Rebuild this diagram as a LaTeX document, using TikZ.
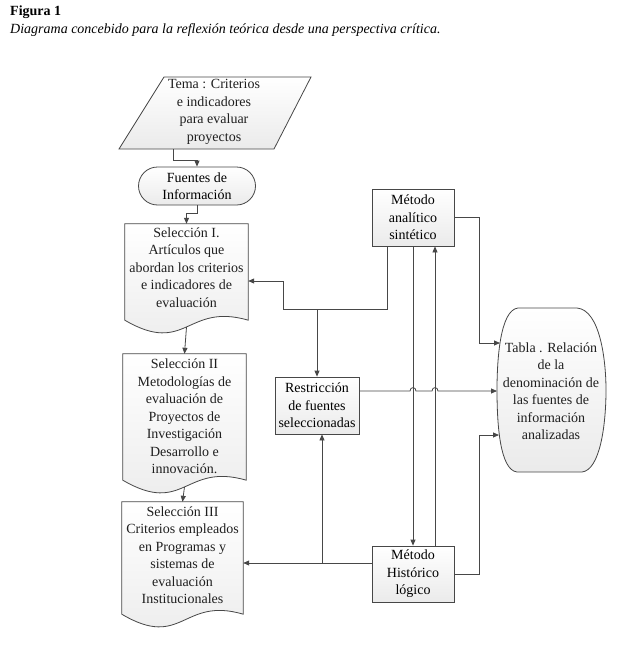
\documentclass[tikz,border=0pt]{standalone}
\usepackage{fontspec}
\setmainfont{Liberation Serif}
\usetikzlibrary{arrows.meta,calc}
\tikzset{
  ln/.style={draw=black!72, line width=0.8pt},
  arr/.style={ln, -{Triangle[length=6pt,width=5pt]}},
  boxfill/.style={ln, top color=white, bottom color=gray!16},
  proc/.style={boxfill, minimum width=82pt, minimum height=57pt, align=center, inner sep=1pt},
  txt/.style={align=center, inner sep=0pt, text=black!88},
  holder/.style={minimum width=123pt, inner sep=0pt, draw=none},
  every node/.style={font=\fontsize{14pt}{17.5pt}\selectfont}
}
\begin{document}
\begin{tikzpicture}[x=1pt,y=-1pt]
\useasboundingbox (0,0) rectangle (640,645);
\fill[white] (0,0) rectangle (640,645);

% titles
\node[anchor=base west, inner sep=0pt, font=\fontsize{14pt}{17pt}\selectfont\bfseries] (fig) at (10,15) {Figura 1};
\node[anchor=base west, inner sep=0pt, font=\fontsize{14pt}{17pt}\selectfont\itshape] (cap) at (10,33) {Diagrama concebido para la reflexión teórica desde una perspectiva crítica.};

% Tema (parallelogram)
\draw[boxfill] (164,77) -- (311,77) -- (274,149) -- (119,149) -- cycle;
\node[txt] (tema) at (214,112) {Tema : Criterios\\e indicadores\\para evaluar\\proyectos};
\coordinate (t1) at (173,149);

% Fuentes
\node[proc, rounded corners=19pt, minimum width=117pt, minimum height=38pt] (fuentes) at (197,186) {Fuentes de\\Información};

% Seleccion I
\node[holder, minimum height=96pt] (s1) at (186.5,272) {};
\draw[boxfill] (s1.north west) -- (s1.north east) -- (s1.south east)
  .. controls ($(s1.south)+(0,-18)$) and ($(s1.south)+(0,36)$) .. (s1.south west) -- cycle;
\node[txt] (s1t) at (186.5,267.5) {Selección I.\\Artículos que\\abordan los criterios\\e indicadores de\\evaluación};
\coordinate (s1b) at ($(s1.south)+(0,6.75)$);

% Seleccion II
\node[holder, minimum height=126pt] (s2) at (184.5,417) {};
\draw[boxfill] (s2.north west) -- (s2.north east) -- (s2.south east)
  .. controls ($(s2.south)+(0,-18)$) and ($(s2.south)+(0,36)$) .. (s2.south west) -- cycle;
\node[txt] (s2t) at (184.5,416.5) {Selección II\\Metodologías de\\evaluación de\\Proyectos de\\Investigación\\Desarrollo e\\innovación.};
\coordinate (s2b) at ($(s2.south)+(0,6.75)$);

% Seleccion III
\node[holder, minimum height=112pt, minimum width=121pt] (s3) at (182.5,558) {};
\draw[boxfill] (s3.north west) -- (s3.north east) -- (s3.south east)
  .. controls ($(s3.south)+(0,-18)$) and ($(s3.south)+(0,36)$) .. (s3.south west) -- cycle;
\node[txt] (s3t) at (182.5,555) {Selección III\\Criterios empleados\\en Programas y\\sistemas de\\evaluación\\Institucionales};

% Metodo analitico
\node[proc] (anal) at (413,217.5) {Método\\analítico\\sintético};
% Restriccion
\node[proc, minimum width=84pt] (restr) at (317,405.5) {Restricción\\de fuentes\\seleccionadas};
% Metodo historico
\node[proc, minimum height=56pt] (hist) at (413,574) {Método\\Histórico\\lógico};

% Tabla
\draw[boxfill] (518,308) -- (577,308) .. controls (600,310) and (606,360) .. (606,390)
  .. controls (606,425) and (600,470) .. (582,472) -- (517,472)
  .. controls (500,470) and (497,425) .. (497,390)
  .. controls (497,360) and (500,310) .. (518,308) -- cycle;
\node[txt] (tabla) at (551,391) {Tabla . Relación\\de la\\denominación de\\las fuentes de\\información\\analizadas};
\coordinate (ta1) at (500,343);
\coordinate (ta2) at (497,391);
\coordinate (ta3) at (499,435);

% connectors left column
\draw[arr] (t1) -- ++(0,11) -| (fuentes.north);
\draw[arr] (fuentes.south) -- ++(0,8) -| (s1.north);
\draw[arr] (s1b) -- (s2.north);
\draw[arr] (s2b) -- (s3.north);

% analitico -> seleccion I and restriccion
\coordinate (a1) at ($(anal.south west)+(16,0)$);
\coordinate (j1) at (317,309);
\draw[arr] (a1) |- (283,309) |- ($(s1.east)+(0,9)$);
\draw[arr] (j1) -- (restr.north);

% analitico -> tabla
\draw[arr] (anal.east) -| (479,343) -- (ta1);

% verticals between methods
\draw[arr] (anal.south) -- (hist.north);
\draw[arr] ($(hist.north)+(22,0)$) -- ($(anal.south)+(22,0)$);

% restriccion -> tabla with hops
\draw[arr] ($(restr.east)+(0,-14.5)$) -- (410,391) .. controls (410,386.5) and (416,386.5) .. (416,391)
  -- (432,391) .. controls (432,386.5) and (438,386.5) .. (438,391) -- (ta2);

% historico -> seleccion III and restriccion
\coordinate (j2) at (322,563);
\draw[arr] ($(hist.west)+(0,-11)$) -- ($(s3.east)+(0,5)$);
\draw[arr] (j2) -- (restr.south -| j2);

% historico -> tabla
\draw[arr] (hist.east) -| (479,435) -- (ta3);
\end{tikzpicture}
\end{document}
